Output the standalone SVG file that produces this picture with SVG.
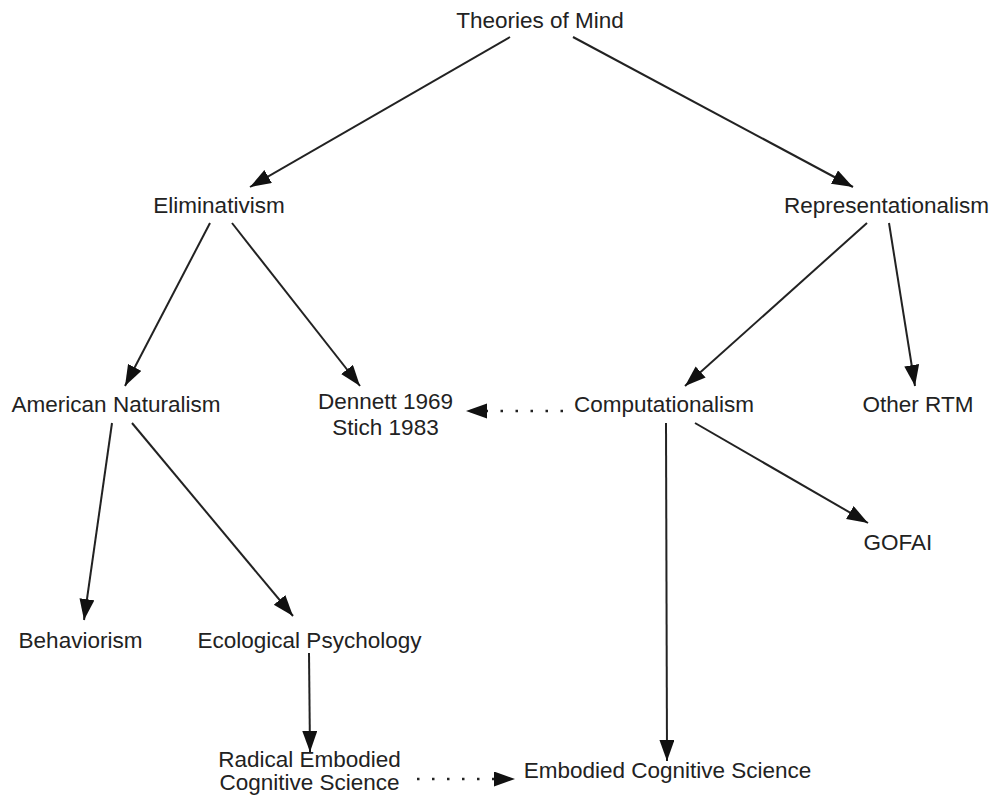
<svg xmlns="http://www.w3.org/2000/svg" width="993" height="798" viewBox="0 0 993 798">
<style>
text{font-family:"Liberation Sans",Arial,Helvetica,sans-serif;font-size:22.5px;fill:#222;text-anchor:middle}
.e{stroke:#222;stroke-width:2;fill:none;marker-end:url(#ah)}
.d{stroke:#222;stroke-width:2.5;fill:none;stroke-dasharray:2.5 12.5;marker-end:url(#ah)}
</style>
<defs>
<marker id="ah" markerUnits="userSpaceOnUse" markerWidth="22" markerHeight="16" refX="21" refY="7.5" orient="auto">
<path d="M0,0 L21,7.5 L0,15 Z" fill="#111"/>
</marker>
</defs>
<rect width="993" height="798" fill="#fff"/>
<g id="connectors">
<path class="e" d="M510,37 L250,187"/>
<path class="e" d="M573,37 L853,187"/>
<path class="e" d="M210,223 L125,386"/>
<path class="e" d="M232,223 L360,386"/>
<path class="e" d="M867,223 L685,386"/>
<path class="e" d="M889,223 L915,386"/>
<path class="e" d="M112,423 L84,620"/>
<path class="e" d="M132,423 L293,616"/>
<path class="e" d="M695,423 L868,523"/>
<path class="e" d="M666,423 L667,761"/>
<path class="e" d="M309,653 L310,752"/>
<path class="d" d="M563,411 L466,411"/>
<path class="d" d="M417,779 L515,779"/>
</g>
<g id="theories"><text x="540" y="28">Theories of Mind</text></g>
<g id="eliminativism"><text x="219" y="213">Eliminativism</text></g>
<g id="representationalism"><text x="886.5" y="213">Representationalism</text></g>
<g id="american-naturalism"><text x="116" y="412">American Naturalism</text></g>
<g id="dennett-stich"><text x="385.5" y="409">Dennett 1969</text><text x="385.5" y="435">Stich 1983</text></g>
<g id="computationalism"><text x="664" y="412">Computationalism</text></g>
<g id="other-rtm"><text x="918" y="412">Other RTM</text></g>
<g id="gofai"><text x="898" y="550">GOFAI</text></g>
<g id="behaviorism"><text x="80.5" y="648">Behaviorism</text></g>
<g id="ecological"><text x="309.5" y="648">Ecological Psychology</text></g>
<g id="radical"><text x="309.5" y="767">Radical Embodied</text><text x="309.5" y="790">Cognitive Science</text></g>
<g id="embodied"><text x="667.5" y="778">Embodied Cognitive Science</text></g>
</svg>
